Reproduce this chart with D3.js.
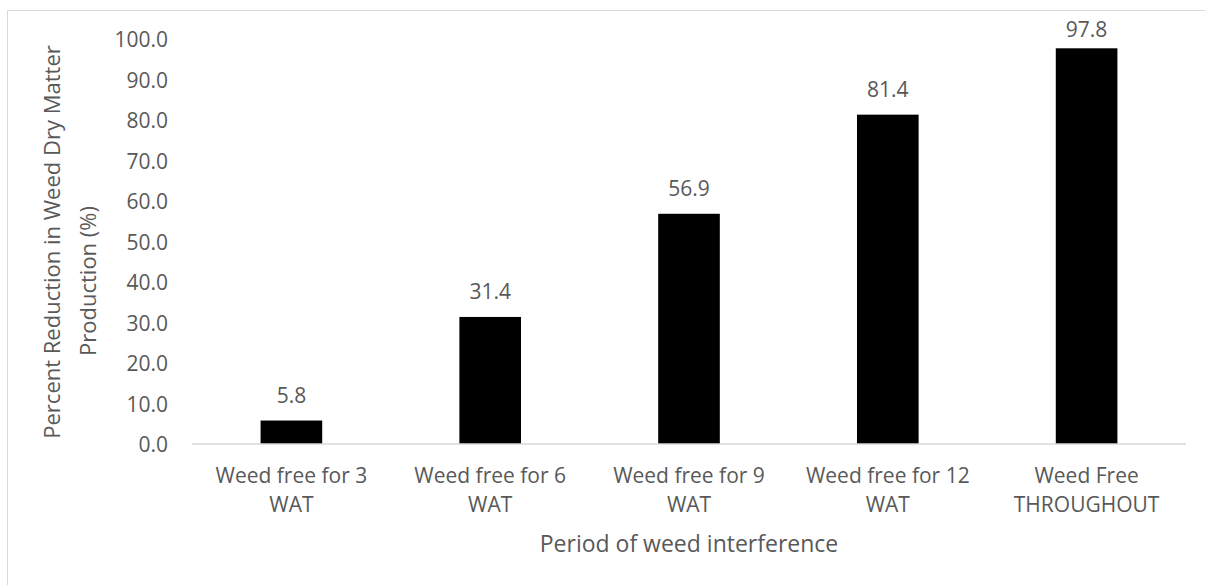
<!DOCTYPE html>
<html>
<head>
<meta charset="utf-8">
<script src="https://cdn.jsdelivr.net/npm/d3@7"></script>
<style>
  html, body { margin: 0; padding: 0; background: #fff; }
  svg { display: block; }
  text { font-family: "Open Sans", "Noto Sans", sans-serif; fill: #595959; }
</style>
</head>
<body>
<svg id="chart" width="1205" height="585"></svg>
<script>
const categories = [
  ["Weed free for 3", "WAT"],
  ["Weed free for 6", "WAT"],
  ["Weed free for 9", "WAT"],
  ["Weed free for 12", "WAT"],
  ["Weed Free", "THROUGHOUT"]
];
const values = [5.8, 31.4, 56.9, 81.4, 97.8];
const yTicks = [0, 10, 20, 30, 40, 50, 60, 70, 80, 90, 100];
const yTitle = ["Percent Reduction in Weed Dry Matter", "Production (%)"];
const xTitle = "Period of weed interference";

const svg = d3.select("#chart");
const W = 1205, H = 585;

// outer chart border (only top and left are visible in the reference)
svg.append("rect")
  .attr("x", 7.5).attr("y", 10.5)
  .attr("width", W + 10).attr("height", H + 10)
  .attr("fill", "none").attr("stroke", "#d9d9d9").attr("stroke-width", 1);

const plot = { left: 192, right: 1186, top: 39.4, bottom: 444 };

const x = d3.scaleBand()
  .domain(d3.range(categories.length))
  .range([plot.left, plot.right])
  .paddingInner(0.69)
  .paddingOuter(0.345);

const y = d3.scaleLinear()
  .domain([0, 100])
  .range([plot.bottom, plot.top]);

// y axis labels
const yAxis = d3.axisLeft(y).tickValues(yTicks).tickFormat(d3.format(".1f")).tickSize(0).tickPadding(0);
const gy = svg.append("g").attr("transform", `translate(168,0)`).call(yAxis);
gy.select(".domain").remove();
gy.selectAll("text").attr("font-size", 21).style("fill", "#595959")
  .attr("font-family", "\"Open Sans\", sans-serif").attr("dy", "0.36em");

// bars
svg.append("g").selectAll("rect")
  .data(values)
  .join("rect")
  .attr("x", (d, i) => x(i))
  .attr("y", d => y(d))
  .attr("width", x.bandwidth())
  .attr("height", d => y(0) - y(d))
  .attr("fill", "#000");

// x axis line
const xAxis = d3.axisBottom(x).tickSize(0).tickFormat("");
const gx = svg.append("g").attr("transform", `translate(0,${plot.bottom})`).call(xAxis);
gx.select(".domain").attr("stroke", "#d9d9d9").attr("stroke-width", 1.5)
  .attr("d", `M${plot.left},0H${plot.right}`);

// category labels
const catG = svg.append("g");
categories.forEach((lines, i) => {
  const t = catG.append("text")
    .attr("text-anchor", "middle")
    .attr("font-size", 21);
  lines.forEach((ln, j) => {
    t.append("tspan")
      .attr("x", x(i) + x.bandwidth() / 2)
      .attr("y", 483 + j * 29)
      .text(ln);
  });
});

// data labels
svg.append("g").selectAll("text")
  .data(values)
  .join("text")
  .attr("x", (d, i) => x(i) + x.bandwidth() / 2)
  .attr("y", d => Math.max(y(d) - 18, 37))
  .attr("text-anchor", "middle")
  .attr("font-size", 21)
  .text(d => d3.format(".1f")(d));

// y title
svg.append("text")
  .attr("transform", "translate(60,242) rotate(-90)")
  .attr("text-anchor", "middle")
  .attr("font-size", 22)
  .text(yTitle[0]);
svg.append("text")
  .attr("transform", "translate(96,281) rotate(-90)")
  .attr("text-anchor", "middle")
  .attr("font-size", 22)
  .text(yTitle[1]);

// x title
svg.append("text")
  .attr("x", (plot.left + plot.right) / 2)
  .attr("y", 552)
  .attr("text-anchor", "middle")
  .attr("font-size", 23)
  .text(xTitle);
</script>
</body>
</html>
